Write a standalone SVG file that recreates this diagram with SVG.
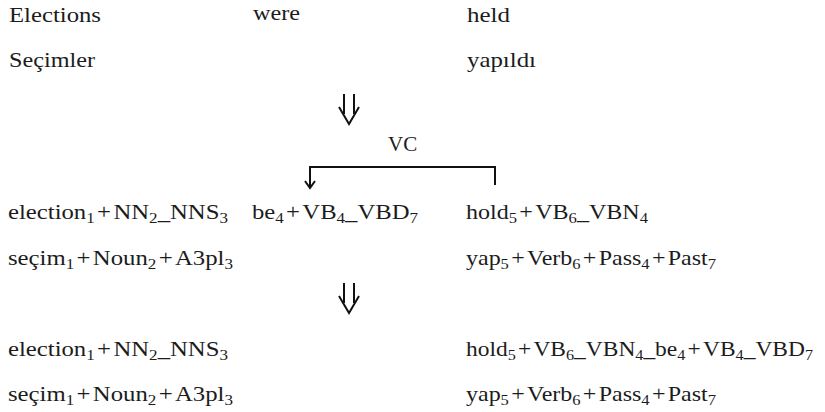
<svg xmlns="http://www.w3.org/2000/svg" width="825" height="412" viewBox="0 0 825 412">
<style>
.m{font-size:21px}
.s{font-size:14.5px}
.ln{stroke:#111;stroke-width:2;fill:none}
</style>
<rect width="825" height="412" fill="#fff"/>
<g font-family="Liberation Serif, Times New Roman, serif" fill="#1c1c1c">
<g id="row1">
<text class="m" x="9" y="22" textLength="92" lengthAdjust="spacingAndGlyphs">Elections</text>
<text class="m" x="253" y="20" textLength="47" lengthAdjust="spacingAndGlyphs">were</text>
<text class="m" x="467" y="22" textLength="43" lengthAdjust="spacingAndGlyphs">held</text>
</g>
<g id="row2">
<text class="m" x="9" y="67" textLength="86" lengthAdjust="spacingAndGlyphs">Seçimler</text>
<text class="m" x="467" y="67" textLength="69" lengthAdjust="spacingAndGlyphs">yapıldı</text>
</g>
<g id="vc">
<text class="m" x="388" y="151">VC</text>
</g>
<g id="row3">
<text class="m" x="8" y="219" textLength="220" lengthAdjust="spacingAndGlyphs">election<tspan class="s" dy="4">1</tspan><tspan dy="-4" dx="2">+</tspan><tspan dx="2">NN</tspan><tspan class="s" dy="4">2</tspan><tspan dy="-4">_NNS</tspan><tspan class="s" dy="4">3</tspan></text>
<text class="m" x="252" y="219" textLength="166" lengthAdjust="spacingAndGlyphs">be<tspan class="s" dy="4">4</tspan><tspan dy="-4" dx="2">+</tspan><tspan dx="2">VB</tspan><tspan class="s" dy="4">4</tspan><tspan dy="-4">_VBD</tspan><tspan class="s" dy="4">7</tspan></text>
<text class="m" x="466" y="219" textLength="182" lengthAdjust="spacingAndGlyphs">hold<tspan class="s" dy="4">5</tspan><tspan dy="-4" dx="2">+</tspan><tspan dx="2">VB</tspan><tspan class="s" dy="4">6</tspan><tspan dy="-4">_VBN</tspan><tspan class="s" dy="4">4</tspan></text>
</g>
<g id="row4">
<text class="m" x="8" y="265" textLength="225" lengthAdjust="spacingAndGlyphs">seçim<tspan class="s" dy="4">1</tspan><tspan dy="-4" dx="2">+</tspan><tspan dx="2">Noun</tspan><tspan class="s" dy="4">2</tspan><tspan dy="-4" dx="2">+</tspan><tspan dx="2">A3pl</tspan><tspan class="s" dy="4">3</tspan></text>
<text class="m" x="466" y="265" textLength="250" lengthAdjust="spacingAndGlyphs">yap<tspan class="s" dy="4">5</tspan><tspan dy="-4" dx="2">+</tspan><tspan dx="2">Verb</tspan><tspan class="s" dy="4">6</tspan><tspan dy="-4" dx="2">+</tspan><tspan dx="2">Pass</tspan><tspan class="s" dy="4">4</tspan><tspan dy="-4" dx="2">+</tspan><tspan dx="2">Past</tspan><tspan class="s" dy="4">7</tspan></text>
</g>
<g id="row5">
<text class="m" x="8" y="356" textLength="220" lengthAdjust="spacingAndGlyphs">election<tspan class="s" dy="4">1</tspan><tspan dy="-4" dx="2">+</tspan><tspan dx="2">NN</tspan><tspan class="s" dy="4">2</tspan><tspan dy="-4">_NNS</tspan><tspan class="s" dy="4">3</tspan></text>
<text class="m" x="466" y="356" textLength="347" lengthAdjust="spacingAndGlyphs">hold<tspan class="s" dy="4">5</tspan><tspan dy="-4" dx="2">+</tspan><tspan dx="2">VB</tspan><tspan class="s" dy="4">6</tspan><tspan dy="-4">_VBN</tspan><tspan class="s" dy="4">4</tspan><tspan dy="-4">_be</tspan><tspan class="s" dy="4">4</tspan><tspan dy="-4" dx="2">+</tspan><tspan dx="2">VB</tspan><tspan class="s" dy="4">4</tspan><tspan dy="-4">_VBD</tspan><tspan class="s" dy="4">7</tspan></text>
</g>
<g id="row6">
<text class="m" x="8" y="401" textLength="225" lengthAdjust="spacingAndGlyphs">seçim<tspan class="s" dy="4">1</tspan><tspan dy="-4" dx="2">+</tspan><tspan dx="2">Noun</tspan><tspan class="s" dy="4">2</tspan><tspan dy="-4" dx="2">+</tspan><tspan dx="2">A3pl</tspan><tspan class="s" dy="4">3</tspan></text>
<text class="m" x="466" y="401" textLength="250" lengthAdjust="spacingAndGlyphs">yap<tspan class="s" dy="4">5</tspan><tspan dy="-4" dx="2">+</tspan><tspan dx="2">Verb</tspan><tspan class="s" dy="4">6</tspan><tspan dy="-4" dx="2">+</tspan><tspan dx="2">Pass</tspan><tspan class="s" dy="4">4</tspan><tspan dy="-4" dx="2">+</tspan><tspan dx="2">Past</tspan><tspan class="s" dy="4">7</tspan></text>
</g>
</g>
<g id="arrow1" class="ln">
<path d="M344,94 V114 M354,94 V114 M339,107 L349,124 L359,107"/>
</g>
<g id="arrow2" class="ln">
<path d="M344,283 V303 M354,283 V303 M339,296 L349,313 L359,296"/>
</g>
<g id="connectors" class="ln">
<path d="M495,185 V167 H310 V187"/>
<path d="M305,181 L310,188 L315,181"/>
</g>
</svg>
